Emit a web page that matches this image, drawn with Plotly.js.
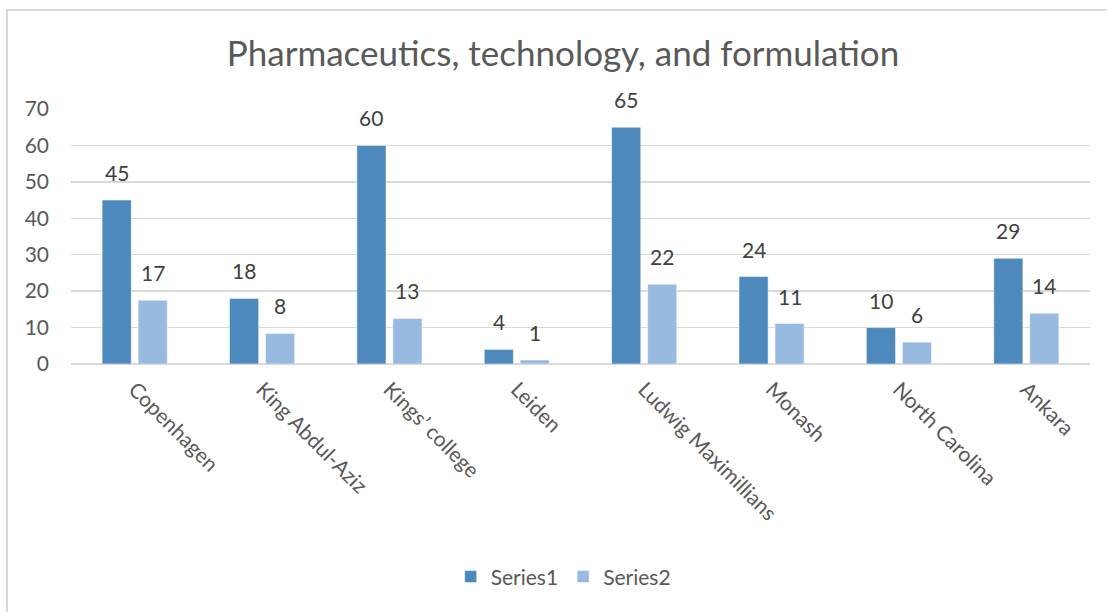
<!DOCTYPE html>
<html>
<head>
<meta charset="utf-8">
<script src="https://cdn.plot.ly/plotly-3.0.1.min.js"></script>
<style>
html,body{margin:0;padding:0;background:#fff;overflow:hidden;}
#chart{width:1107px;height:612px;position:absolute;left:0;top:0;}
#frame{position:absolute;left:6px;top:9px;width:1200px;height:700px;border-left:2px solid #d9d9d9;border-top:2px solid #d9d9d9;pointer-events:none;}
</style>
</head>
<body>
<div id="chart"></div>
<div id="frame"></div>
<script>
const categories = ["Copenhagen", "King Abdul-Aziz", "Kings\u2019 college", "Leiden", "Ludwig Maximillians", "Monash", "North Carolina", "Ankara"];
const series1 = [45, 18, 60, 4, 65, 24, 10, 29];
const series2 = [17.5, 8.4, 12.5, 1.1, 21.9, 11.1, 6, 13.9];
const labels1 = ["45", "18", "60", "4", "65", "24", "10", "29"];
const labels2 = ["17", "8", "13", "1", "22", "11", "6", "14"];

const FONT = "Lato, 'Noto Sans', sans-serif";
const GREY = "#595959";

const traces = [
  {type: "bar", name: "Series1", x: categories, y: series1,
   marker: {color: "#4e89be", line: {color: "rgba(255,255,255,0.5)", width: 1}}},
  {type: "bar", name: "Series2", x: categories, y: series2,
   marker: {color: "#98b9e0", line: {color: "rgba(255,255,255,0.5)", width: 1}}}
];

const annotations = [];
categories.forEach((c, i) => {
  annotations.push({x: c, y: series1[i], xref: "x", yref: "y", text: labels1[i], showarrow: false,
    xshift: -18, yshift: 13, yanchor: "bottom", font: {family: FONT, size: 21, color: "#404040"}});
  annotations.push({x: c, y: series2[i], xref: "x", yref: "y", text: labels2[i], showarrow: false,
    xshift: 18, yshift: 13, yanchor: "bottom", font: {family: FONT, size: 21, color: "#404040"}});
});

const layout = {
  width: 1107, height: 612,
  margin: {l: 71, r: 17, t: 109, b: 248},
  paper_bgcolor: "#fff", plot_bgcolor: "#fff",
  font: {family: FONT, color: GREY},
  title: {text: "Pharmaceutics, technology, and formulation", font: {family: FONT, size: 35, color: GREY},
          x: 0.5086, xanchor: "center", y: 0.912, yanchor: "middle"},
  barmode: "group", bargap: 0.435, bargroupgap: 0.19,
  xaxis: {tickangle: 45, tickfont: {family: FONT, size: 21, color: GREY}, showgrid: false,
          showline: false, ticks: "", zeroline: false, ticklabelstandoff: 8},
  yaxis: {range: [0, 70], dtick: 10, tickfont: {family: FONT, size: 21, color: GREY},
          showgrid: true, gridcolor: "#d9d9d9", gridwidth: 1.5, zeroline: true, zerolinecolor: "#d9d9d9",
          zerolinewidth: 1.5, showline: false, ticks: "", ticklabelstandoff: 21},
  showlegend: true,
  legend: {orientation: "h", x: 0.483, xanchor: "center", y: -0.835, yanchor: "middle",
           font: {family: FONT, size: 21, color: GREY}, itemwidth: 30},
  annotations: annotations
};

Plotly.newPlot("chart", traces, layout, {displayModeBar: false, staticPlot: true});
</script>
</body>
</html>
